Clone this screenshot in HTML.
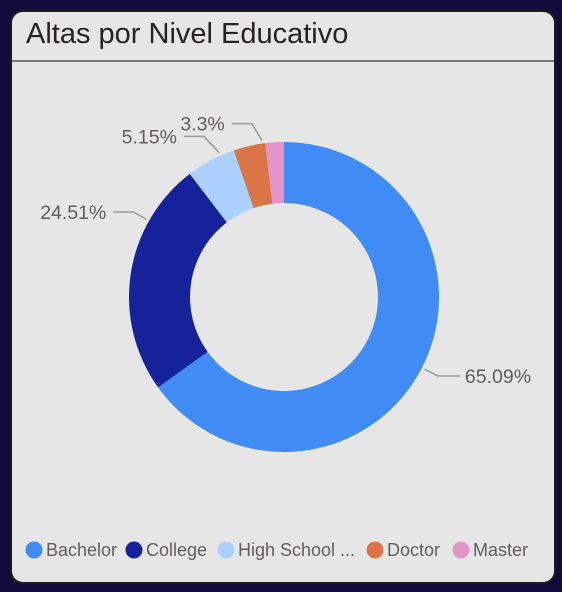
<!DOCTYPE html>
<html><head><meta charset="utf-8"><style>
body{margin:0;width:562px;height:592px;background:#120a3a;overflow:hidden;font-family:"Liberation Sans",sans-serif}
#card{position:absolute;left:10px;top:10px;width:546px;height:574px;background:#e6e6e6;border:2px solid #1c1c1c;border-radius:13px;box-sizing:border-box}
#title{position:absolute;left:14px;top:6px;font-size:29px;color:#252423}
#rule{position:absolute;left:0;right:0;top:48px;height:2px;background:#777}
svg{position:absolute;left:0;top:0}
</style></head><body>
<div id="card">
<div id="title">Altas por Nivel Educativo</div>
<div id="rule"></div>
</div>
<svg id="chart" width="562" height="592"></svg>
<script>
const categories=["Bachelor","College","High School ...","Doctor","Master"];
const values=[65.09,24.51,5.15,3.3,1.95];
const labels=["65.09%","24.51%","5.15%","3.3%",""];
const colors=["#418bf5","#15229a","#abd0fb","#db7444","#e395cb"];
const labelShiftDeg=[0,21,4,5,0];
const labelOut=[18,18,21,20,18];
const svg=document.getElementById('chart');const NS="http://www.w3.org/2000/svg";
const cx=284,cy=297,R=155,r=94;
const total=values.reduce((a,b)=>a+b,0);
function pt(a,rad){return [cx+rad*Math.sin(a),cy-rad*Math.cos(a)];}
let a0=0;
values.forEach((v,i)=>{
 const a1=a0+v/total*2*Math.PI;const lg=(a1-a0)>Math.PI?1:0;
 const p1=pt(a0,R),p2=pt(a1,R),p3=pt(a1,r),p4=pt(a0,r);
 const p=document.createElementNS(NS,'path');
 p.setAttribute('d',`M${p1}A${R},${R} 0 ${lg} 1 ${p2}L${p3}A${r},${r} 0 ${lg} 0 ${p4}Z`);
 p.setAttribute('fill',colors[i]);
 
 
 svg.appendChild(p);
 if(labels[i]){
  const m=(a0+a1)/2+labelShiftDeg[i]*Math.PI/180;const e=pt(m,R+3),k0=pt(m,R+labelOut[i]);const right=Math.sin(m)>0;
  const k=[k0[0]+(right?0:-8*(i>=2)),k0[1]];
  const hx=k[0]+(right?22:-20);
  const l=document.createElementNS(NS,'polyline');
  l.setAttribute('points',`${e} ${k} ${hx},${k[1]}`);
  l.setAttribute('fill','none');l.setAttribute('stroke','#999');l.setAttribute('stroke-width','1.5');
  
  
  svg.appendChild(l);
  const t=document.createElementNS(NS,'text');
  t.setAttribute('x',hx+(right?5:-7));t.setAttribute('y',k[1]+7);
  t.setAttribute('text-anchor',right?'start':'end');t.setAttribute('font-size','19.5');t.setAttribute('fill','#605e5c');
  t.setAttribute('font-family','Liberation Sans, sans-serif');
  t.textContent=labels[i];
  
  
  svg.appendChild(t);
 }
 a0=a1;
});
const lx=[34,134,226,375,461];
categories.forEach((c,i)=>{
 const g=document.createElementNS(NS,'g');
 
 
 const ci=document.createElementNS(NS,'circle');ci.setAttribute('cx',lx[i]);ci.setAttribute('cy',550);ci.setAttribute('r',8.5);ci.setAttribute('fill',colors[i]);
 const t=document.createElementNS(NS,'text');t.setAttribute('x',lx[i]+12);t.setAttribute('y',556);t.setAttribute('font-size','18');t.setAttribute('fill','#605e5c');
 t.setAttribute('font-family','Liberation Sans, sans-serif');t.textContent=c;
 g.appendChild(ci);g.appendChild(t);svg.appendChild(g);
});
</script>
</body></html>
